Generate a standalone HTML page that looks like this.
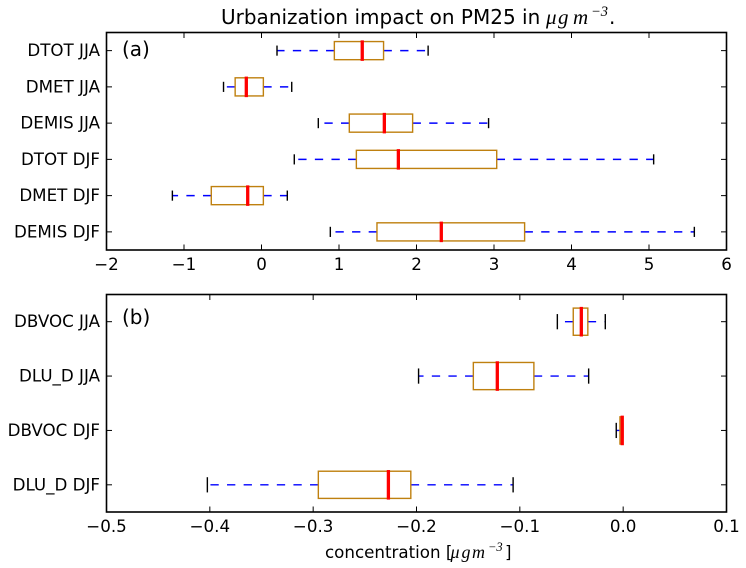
<!DOCTYPE html>
<html>
<head>
<meta charset="utf-8">
<title>Urbanization impact on PM25</title>
<style>
html,body{margin:0;padding:0;background:#fff;}
svg{display:block;}
text{font-family:"DejaVu Sans","Liberation Sans",sans-serif;fill:#000;}
.m{font-family:"Liberation Serif","DejaVu Serif",serif;font-style:italic;}
</style>
</head>
<body>
<svg id="chart" xmlns="http://www.w3.org/2000/svg" width="746" height="568" viewBox="0 0 746 568">
  <text x="221" y="24" font-size="20">Urbanization impact on PM25 in <tspan class="m" font-size="21" x="546">μ</tspan><tspan class="m" font-size="21" x="558">g</tspan><tspan class="m" font-size="21" x="573">m</tspan><tspan class="m" font-size="14.5" x="591" dy="-8">−3</tspan><tspan x="609" dy="8">.</tspan></text>
  <g id="panelA"></g>
  <g id="panelB"></g>
  <text x="122" y="56" font-size="20">(a)</text>
  <text x="122" y="324" font-size="20">(b)</text>
  <text x="325" y="558" font-size="16.7">concentration [<tspan class="m" font-size="18" x="450.5">μ</tspan><tspan class="m" font-size="18" x="461.5">g</tspan><tspan class="m" font-size="18" x="472">m</tspan><tspan class="m" font-size="12.5" x="488" dy="-7">−3</tspan><tspan x="505" dy="7">]</tspan></text>
</svg>
<script>
var labelsA = ['DTOT JJA', 'DMET JJA', 'DEMIS JJA', 'DTOT DJF', 'DMET DJF', 'DEMIS DJF'];
var whiskerLowA = [0.20, -0.49, 0.733, 0.423, -1.15, 0.888];
var quartile1A = [0.94, -0.34, 1.133, 1.224, -0.648, 1.49];
var medianA = [1.30, -0.196, 1.585, 1.766, -0.178, 2.32];
var quartile3A = [1.575, 0.024, 1.95, 3.035, 0.024, 3.395];
var whiskerHighA = [2.15, 0.39, 2.93, 5.06, 0.333, 5.585];
var xTicksA = [-2, -1, 0, 1, 2, 3, 4, 5, 6];
var xTickLabelsA = ['−2', '−1', '0', '1', '2', '3', '4', '5', '6'];

var labelsB = ['DBVOC JJA', 'DLU_D JJA', 'DBVOC DJF', 'DLU_D DJF'];
var whiskerLowB = [-0.0637, -0.198, -0.0067, -0.4024];
var quartile1B = [-0.0483, -0.145, -0.0031, -0.295];
var medianB = [-0.0405, -0.1218, -0.0009, -0.2272];
var quartile3B = [-0.0342, -0.0864, -0.0003, -0.2055];
var whiskerHighB = [-0.0173, -0.0334, -0.0003, -0.1065];
var xTicksB = [-0.5, -0.4, -0.3, -0.2, -0.1, 0, 0.1];
var xTickLabelsB = ['−0.5', '−0.4', '−0.3', '−0.2', '−0.1', '0.0', '0.1'];

var NS = 'http://www.w3.org/2000/svg';

function makeLine(parent, x1, y1, x2, y2, stroke, width, dash) {
  var el = document.createElementNS(NS, 'line');
  el.setAttribute('x1', x1);
  el.setAttribute('y1', y1);
  el.setAttribute('x2', x2);
  el.setAttribute('y2', y2);
  el.setAttribute('stroke', stroke);
  el.setAttribute('stroke-width', width);
  if (dash) el.setAttribute('stroke-dasharray', dash);
  parent.appendChild(el);
  return el;
}

function makeLabel(parent, x, y, anchor, content) {
  var el = document.createElementNS(NS, 'text');
  el.setAttribute('x', x);
  el.setAttribute('y', y);
  el.setAttribute('text-anchor', anchor);
  el.setAttribute('font-size', '16.7');
  el.textContent = content;
  parent.appendChild(el);
  return el;
}

function drawPanel(parent, top, bottom, xMin, xMax, labels, low, q1, med, q3, high, xTicks, xTickLabels, xLabelY) {
  var left = 106.5, right = 726.5;
  var band = (bottom - top) / labels.length;
  function xScale(v) { return left + (v - xMin) / (xMax - xMin) * (right - left); }
  function yScale(i) { return top + band * (i + 0.5); }
  var boxH = band * 0.5;
  var capH = band * 0.28;

  labels.forEach(function (name, i) {
    var y = yScale(i);

    var tl = makeLine(parent, left, y, left + 5.5, y, '#000', 1);
    
    
    var tr = makeLine(parent, right, y, right - 5.5, y, '#000', 1);
    
    
    var lab = makeLabel(parent, 100, y + 5.5, 'end', name);
    
    

    var wl = makeLine(parent, xScale(q1[i]), y, xScale(low[i]), y, '#0000ff', 1.4, '8.3 8.3');
    
    
    var wh = makeLine(parent, xScale(q3[i]), y, xScale(high[i]), y, '#0000ff', 1.4, '8.3 8.3');
    
    

    var box = document.createElementNS(NS, 'rect');
    box.setAttribute('x', xScale(q1[i]));
    box.setAttribute('y', y - boxH / 2);
    box.setAttribute('width', xScale(q3[i]) - xScale(q1[i]));
    box.setAttribute('height', boxH);
    box.setAttribute('fill', 'none');
    box.setAttribute('stroke', '#bf800f');
    box.setAttribute('stroke-width', 1.4);
    
    
    parent.appendChild(box);

    var cl = makeLine(parent, xScale(low[i]), y - capH / 2, xScale(low[i]), y + capH / 2, '#000', 1.4);
    
    
    var ch = makeLine(parent, xScale(high[i]), y - capH / 2, xScale(high[i]), y + capH / 2, '#000', 1.4);
    
    

    var m = makeLine(parent, xScale(med[i]), y - boxH / 2 - 1.2, xScale(med[i]), y + boxH / 2 + 1.2, '#ff0000', 3.3);
    
    
  });

  xTicks.forEach(function (t, i) {
    var x = xScale(t);
    var tb = makeLine(parent, x, bottom, x, bottom - 5.5, '#000', 1);
    
    
    var tt = makeLine(parent, x, top, x, top + 5.5, '#000', 1);
    
    
    var lab = makeLabel(parent, x, xLabelY, 'middle', xTickLabels[i]);
    
    
  });

  var frame = document.createElementNS(NS, 'rect');
  frame.setAttribute('x', left);
  frame.setAttribute('y', top);
  frame.setAttribute('width', right - left);
  frame.setAttribute('height', bottom - top);
  frame.setAttribute('fill', 'none');
  frame.setAttribute('stroke', '#000');
  frame.setAttribute('stroke-width', 1.6);
  
  
  parent.appendChild(frame);
}

drawPanel(document.getElementById('panelA'), 32.5, 250, -2, 6, labelsA, whiskerLowA, quartile1A, medianA, quartile3A, whiskerHighA, xTicksA, xTickLabelsA, 270);
drawPanel(document.getElementById('panelB'), 294.5, 512, -0.5, 0.1, labelsB, whiskerLowB, quartile1B, medianB, quartile3B, whiskerHighB, xTicksB, xTickLabelsB, 532);
</script>
</body>
</html>
